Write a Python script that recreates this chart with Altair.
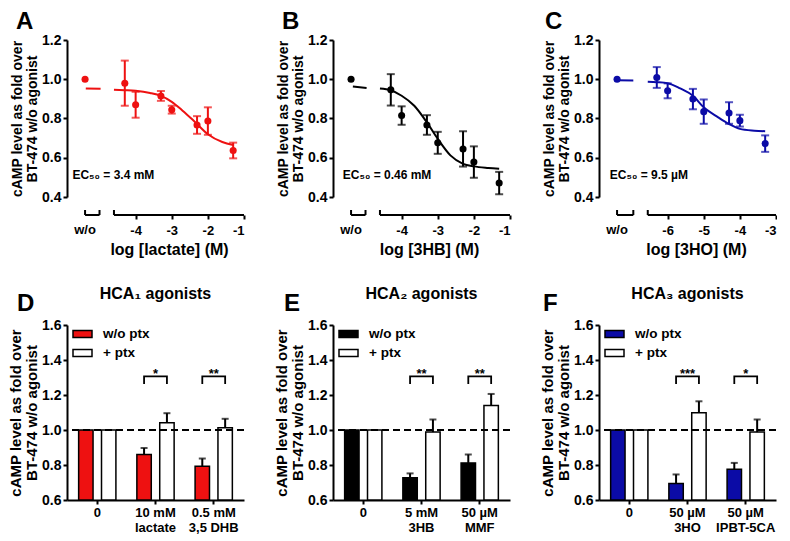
import altair as alt
import pandas as pd

FONT = "Liberation Sans"
RED = "#ee1111"
BLUE = "#0b0ba6"
BLACK = "#000000"

# ---------------- top row: concentration-response data ----------------
A_logc = [-4.3, -4.0, -3.3, -3.0, -2.3, -2.0, -1.3]
A_mean = [0.98, 0.87, 0.915, 0.845, 0.767, 0.787, 0.637]
A_sem = [0.115, 0.066, 0.025, 0.02, 0.045, 0.07, 0.04]
A_curve_x = [-4.6, -4.3, -4.0, -3.6, -3.3, -3.0, -2.7, -2.4, -2.0, -1.6, -1.3]
A_curve_y = [0.946, 0.944, 0.941, 0.93, 0.915, 0.885, 0.84, 0.79, 0.72, 0.68, 0.665]
A_dash_x = [-5.38, -4.97]
A_dash_y = [0.953, 0.951]

B_logc = [-4.3, -4.0, -3.3, -3.0, -2.3, -2.0, -1.3]
B_mean = [0.946, 0.815, 0.767, 0.676, 0.645, 0.578, 0.471]
B_sem = [0.08, 0.047, 0.05, 0.056, 0.09, 0.08, 0.057]
B_curve_x = [-4.6, -4.3, -4.0, -3.65, -3.3, -3.0, -2.65, -2.3, -2.0, -1.6, -1.3]
B_curve_y = [0.953, 0.944, 0.916, 0.865, 0.78, 0.696, 0.612, 0.569, 0.556, 0.548, 0.544]
B_dash_x = [-5.35, -4.97]
B_dash_y = [0.963, 0.956]

C_logc = [-6.3, -6.0, -5.3, -5.0, -4.3, -4.0, -3.3]
C_mean = [1.009, 0.941, 0.899, 0.835, 0.828, 0.789, 0.672]
C_sem = [0.053, 0.038, 0.052, 0.062, 0.055, 0.03, 0.042]
C_curve_x = [-6.55, -6.3, -6.0, -5.65, -5.3, -5.0, -4.6, -4.3, -4.0, -3.6, -3.3]
C_curve_y = [0.987, 0.985, 0.98, 0.953, 0.916, 0.857, 0.806, 0.772, 0.747, 0.738, 0.735]
C_dash_x = [-7.4, -6.95]
C_dash_y = [0.995, 0.994]

WO_VALUE = 1.0
TOP_YTICKS = [0.4, 0.6, 0.8, 1.0, 1.2]

# ---------------- bottom row: bar data ----------------
SERIES = ["w/o ptx", "+ ptx"]
BOT_YTICKS = [0.6, 0.8, 1.0, 1.2, 1.4, 1.6]

D_groups = ["0", "10 mM|lactate", "0.5 mM|3,5 DHB"]
D_wo = [1.0, 0.86, 0.793]
D_wo_sem = [0.0, 0.037, 0.044]
D_ptx = [1.0, 1.041, 1.013]
D_ptx_sem = [0.0, 0.055, 0.051]
D_stars = ["*", "**"]

E_groups = ["0", "5 mM|3HB", "50 µM|MMF"]
E_wo = [1.0, 0.727, 0.812]
E_wo_sem = [0.0, 0.025, 0.048]
E_ptx = [1.0, 0.988, 1.14]
E_ptx_sem = [0.0, 0.072, 0.066]
E_stars = ["**", "**"]

F_groups = ["0", "50 µM|3HO", "50 µM|IPBT-5CA"]
F_wo = [1.0, 0.695, 0.776]
F_wo_sem = [0.0, 0.051, 0.036]
F_ptx = [1.0, 1.098, 0.988]
F_ptx_sem = [0.0, 0.066, 0.072]
F_stars = ["***", "*"]

BRACKET_LOW, BRACKET_HIGH, STAR_Y = 1.263, 1.306, 1.296

W = 177
TOP_H, BOT_H = 157, 175
XAX_OFF = 18

YTITLE = ["cAMP level as fold over", "BT-474 w/o agonist"]


def top_panel(letter, color, px, pm, ps, cx, cy, dx, dy, x_dom, wo_x, wo_end,
              seg_start, ticks, xtitle, title_x, ec50, ec50_x, letter_dx):
    xs = alt.Scale(domain=x_dom, nice=False, zero=False)
    ys = alt.Scale(domain=[0.4, 1.2], nice=False, zero=False)
    xaxis = alt.Axis(values=ticks, labelExpr="'-' + abs(datum.value)", domain=False,
                     offset=XAX_OFF, tickSize=4, labelFontSize=13, labelPadding=5,
                     title=xtitle, titleFontSize=16, titleX=title_x, titlePadding=4,
                     grid=False)
    yaxis = alt.Axis(values=TOP_YTICKS, format=".1f", title=YTITLE, titleFontSize=14,
                     titleLineHeight=15, labelFontSize=14, tickSize=4, labelPadding=2,
                     titlePadding=2, grid=False)

    def X(f="x"):
        return alt.X(f + ":Q", scale=xs, axis=xaxis)

    def Y(f="y"):
        return alt.Y(f + ":Q", scale=ys, axis=yaxis)

    pts = pd.DataFrame({"x": px, "y": pm,
                        "lo": [m - s for m, s in zip(pm, ps)],
                        "hi": [m + s for m, s in zip(pm, ps)]})
    wo = pd.DataFrame({"x": [wo_x], "y": [WO_VALUE]})
    curve = pd.DataFrame({"x": cx, "y": cy})
    dash = pd.DataFrame({"x": dx, "y": dy})
    seg = pd.DataFrame({"x": [wo_x, seg_start], "x2": [wo_end, x_dom[1]]})
    caps = pd.DataFrame({"x": [wo_x, wo_end, seg_start]})
    wolab = pd.DataFrame({"x": [wo_x], "t": ["w/o"]})
    ec = pd.DataFrame({"x": [ec50_x], "y": [0.513], "t": [ec50]})
    let = pd.DataFrame({"t": [letter]})

    layers = [
        alt.Chart(curve).mark_line(color=color, strokeWidth=2, interpolate="monotone").encode(x=X(), y=Y()),
        alt.Chart(dash).mark_line(color=color, strokeWidth=2).encode(x=X(), y=Y()),
        alt.Chart(pts).mark_rule(color=color, strokeWidth=2).encode(x=X(), y=Y("lo"), y2="hi:Q"),
        alt.Chart(pts).mark_tick(color=color, orient="horizontal", size=8, thickness=2).encode(x=X(), y=Y("lo")),
        alt.Chart(pts).mark_tick(color=color, orient="horizontal", size=8, thickness=2).encode(x=X(), y=Y("hi")),
        alt.Chart(pts).mark_circle(color=color, size=50, opacity=1).encode(x=X(), y=Y()),
        alt.Chart(wo).mark_circle(color=color, size=50, opacity=1).encode(x=X(), y=Y()),
        alt.Chart(seg).mark_rule(color=BLACK, strokeWidth=2).encode(
            x=X(), x2="x2:Q", y=alt.value(TOP_H + XAX_OFF)),
        alt.Chart(caps).mark_rule(color=BLACK, strokeWidth=2).encode(
            x=X(), y=alt.value(TOP_H + XAX_OFF - 5), y2=alt.value(TOP_H + XAX_OFF)),
        alt.Chart(wolab).mark_text(fontSize=13, fontWeight="bold", baseline="top", font=FONT).encode(
            x=X(), y=alt.value(TOP_H + XAX_OFF + 9), text="t:N"),
        alt.Chart(ec).mark_text(fontSize=12, fontWeight="bold", align="left", baseline="middle", font=FONT).encode(
            x=X(), y=Y(), text="t:N"),
        alt.Chart(let).mark_text(fontSize=24, fontWeight="bold", align="left", baseline="alphabetic", font=FONT).encode(
            x=alt.value(letter_dx), y=alt.value(-11), text="t:N"),
    ]
    return alt.layer(*layers).properties(width=W, height=TOP_H)


def bar_panel(letter, color, groups, wo_m, wo_s, ptx_m, ptx_s, stars, title, letter_dx):
    rows = []
    for g, m, s in zip(groups, wo_m, wo_s):
        rows.append({"g": g, "s": SERIES[0], "v": m, "top": m + s, "sem": s, "fill": color})
    for g, m, s in zip(groups, ptx_m, ptx_s):
        rows.append({"g": g, "s": SERIES[1], "v": m, "top": m + s, "sem": s, "fill": "#ffffff"})
    bars = pd.DataFrame(rows)
    bars["base"] = 0.6
    errs = bars[bars["sem"] > 0]

    brk = []
    for i, g in enumerate(groups[1:]):
        brk += [{"g": g, "s": SERIES[0], "v": BRACKET_LOW, "pair": i, "k": 0},
                {"g": g, "s": SERIES[0], "v": BRACKET_HIGH, "pair": i, "k": 1},
                {"g": g, "s": SERIES[1], "v": BRACKET_HIGH, "pair": i, "k": 2},
                {"g": g, "s": SERIES[1], "v": BRACKET_LOW, "pair": i, "k": 3}]
    brk = pd.DataFrame(brk)
    st = pd.DataFrame({"g": groups[1:], "v": [STAR_Y] * 2, "t": stars})
    ref = pd.DataFrame({"v": [1.0]})

    xs = alt.Scale(domain=groups, paddingInner=0.36, paddingOuter=0.2)
    xaxis = alt.Axis(labelExpr="split(datum.label, '|')", labelAngle=0, title=None,
                     tickSize=4, labelFontSize=13, labelLineHeight=15, labelPadding=2)
    ys = alt.Scale(domain=[0.6, 1.6], nice=False, zero=False)
    yaxis = alt.Axis(values=BOT_YTICKS, format=".1f", title=YTITLE, titleFontSize=15,
                     titleLineHeight=16, labelFontSize=14, tickSize=4, labelPadding=2,
                     titlePadding=2, grid=False)
    X = alt.X("g:N", scale=xs, axis=xaxis, sort=groups)
    XO = alt.XOffset("s:N", scale=alt.Scale(domain=SERIES, paddingInner=0.37, paddingOuter=0), sort=SERIES)

    def Y(f="v"):
        return alt.Y(f + ":Q", scale=ys, axis=yaxis)

    one = pd.DataFrame({"a": [0]})
    layers = [
        alt.Chart(bars).mark_bar(stroke=BLACK, strokeWidth=1.5).encode(
            x=X, xOffset=XO, y=Y(), y2="base:Q", fill=alt.Fill("fill:N", scale=None)),
        alt.Chart(errs).mark_rule(color=BLACK, strokeWidth=2).encode(x=X, xOffset=XO, y=Y(), y2="top:Q"),
        alt.Chart(errs).mark_tick(color=BLACK, orient="horizontal", size=7, thickness=2).encode(
            x=X, xOffset=XO, y=Y("top")),
        alt.Chart(ref).mark_rule(color=BLACK, strokeWidth=2, strokeDash=[7, 4]).encode(y=Y()),
        alt.Chart(brk).mark_line(color=BLACK, strokeWidth=1.8).encode(
            x=X, xOffset=XO, y=Y(), detail="pair:N", order="k:Q"),
        alt.Chart(st).mark_text(fontSize=13, fontWeight="bold", baseline="alphabetic", font=FONT).encode(
            x=X, y=Y(), text="t:N"),
        # legend
        alt.Chart(one).mark_rect(fill=color, stroke=BLACK, strokeWidth=1.5).encode(
            x=alt.value(6), x2=alt.value(25), y=alt.value(5.5), y2=alt.value(12.5)),
        alt.Chart(one).mark_rect(fill="#ffffff", stroke=BLACK, strokeWidth=1.5).encode(
            x=alt.value(6), x2=alt.value(25), y=alt.value(24.5), y2=alt.value(31.5)),
        alt.Chart(pd.DataFrame({"t": [SERIES[0]]})).mark_text(
            fontSize=13.5, fontWeight="bold", align="left", baseline="middle", font=FONT).encode(
            x=alt.value(36), y=alt.value(9), text="t:N"),
        alt.Chart(pd.DataFrame({"t": [SERIES[1]]})).mark_text(
            fontSize=13.5, fontWeight="bold", align="left", baseline="middle", font=FONT).encode(
            x=alt.value(36), y=alt.value(28), text="t:N"),
        alt.Chart(pd.DataFrame({"t": [title]})).mark_text(
            fontSize=16, fontWeight="bold", align="center", baseline="alphabetic", font=FONT).encode(
            x=alt.value(W / 2), y=alt.value(-26), text="t:N"),
        alt.Chart(pd.DataFrame({"t": [letter]})).mark_text(
            fontSize=24, fontWeight="bold", align="left", baseline="alphabetic", font=FONT).encode(
            x=alt.value(letter_dx), y=alt.value(-14), text="t:N"),
    ]
    return alt.layer(*layers).properties(width=W, height=BOT_H)


pA = top_panel("A", RED, A_logc, A_mean, A_sem, A_curve_x, A_curve_y, A_dash_x, A_dash_y,
               [-5.9, -1.0], -5.4, -5.0, -4.6, [-4, -3, -2, -1], "log [lactate] (M)", 102,
               "EC₅₀ = 3.4 mM", -5.75, -51)
pB = top_panel("B", BLACK, B_logc, B_mean, B_sem, B_curve_x, B_curve_y, B_dash_x, B_dash_y,
               [-5.9, -1.0], -5.4, -5.0, -4.6, [-4, -3, -2, -1], "log [3HB] (M)", 96,
               "EC₅₀ = 0.46 mM", -5.63, -51)
pC = top_panel("C", BLUE, C_logc, C_mean, C_sem, C_curve_x, C_curve_y, C_dash_x, C_dash_y,
               [-7.9, -3.0], -7.4, -6.95, -6.55, [-6, -5, -4, -3], "log [3HO] (M)", 97,
               "EC₅₀ = 9.5 µM", -7.6, -54)

pD = bar_panel("D", RED, D_groups, D_wo, D_wo_sem, D_ptx, D_ptx_sem, D_stars, "HCA₁ agonists", -50)
pE = bar_panel("E", BLACK, E_groups, E_wo, E_wo_sem, E_ptx, E_ptx_sem, E_stars, "HCA₂ agonists", -49)
pF = bar_panel("F", BLUE, F_groups, F_wo, F_wo_sem, F_ptx, F_ptx_sem, F_stars, "HCA₃ agonists", -56)

chart = alt.concat(pA, pB, pC, pD, pE, pF, columns=3,
                   spacing=alt.RowColnumber(row=128, column=89), bounds="flush").properties(
    padding={"left": 0, "top": 2, "right": 0, "bottom": 0}, background="white"
).configure_view(stroke=None).configure_axis(
    labelFont=FONT, titleFont=FONT, labelFontWeight="bold", titleFontWeight="bold",
    labelColor=BLACK, titleColor=BLACK, domainColor=BLACK, tickColor=BLACK,
    domainWidth=2, tickWidth=2
)

chart.save("out.html", embed_options={"renderer": "svg", "actions": False})
